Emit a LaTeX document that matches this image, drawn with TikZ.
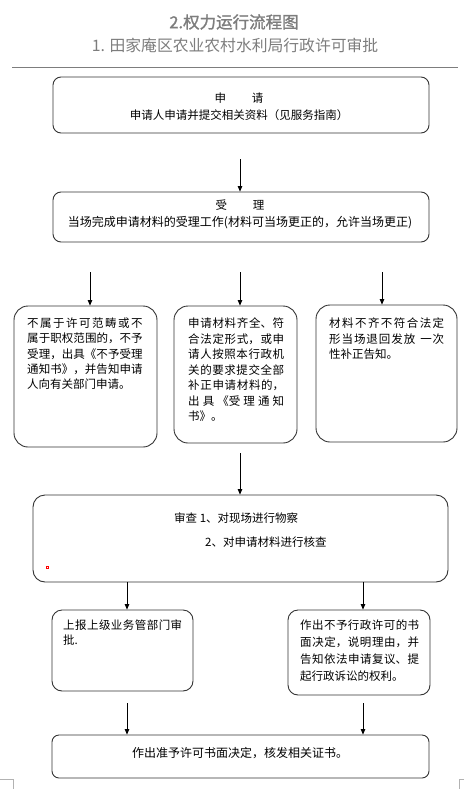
\documentclass[tikz,border=0pt]{standalone}
\usepackage{fontspec}
\setmainfont{Noto Sans CJK SC}
\newfontfamily\titlefont[FakeBold=1.5]{Noto Sans CJK SC}
\usetikzlibrary{arrows.meta}
\XeTeXlinebreaklocale "zh"
\XeTeXlinebreakskip=0pt plus 4pt
\setlength\parindent{0pt}
\definecolor{titlegray}{RGB}{125,125,125}
\begin{document}
\begin{tikzpicture}[x=1pt,y=-1pt,
  box/.style={draw=black!80, line width=0.9pt, rectangle, inner sep=0pt},
  arr/.style={draw=black, line width=0.7pt, -{Triangle[length=5.5pt,width=4.5pt]}},
  txt/.style={inner sep=0pt, font=\fontsize{11.5}{15.5}\selectfont, text=black},
  para/.style={txt, anchor=north west, align=justify},
]
\useasboundingbox (0,0) rectangle (464,789);
% titles
\node[inner sep=0pt, font=\titlefont\fontsize{16.5}{20}\selectfont, text=titlegray] (title) at (234,22) {2.权力运行流程图};
\node[inner sep=0pt, font=\fontsize{15.8}{20}\selectfont, text=titlegray] (sub) at (235,45) {1. 田家庵区农业农村水利局行政许可审批};
\draw[titlegray, line width=0.8pt] (12,67) -- (458,67);
% boxes
\node[box, rounded corners=8pt, minimum width=376pt, minimum height=56pt] (b1) at (241,105) {};
\node[box, rounded corners=8pt, minimum width=376pt, minimum height=50pt] (b2) at (241,217) {};
\node[box, rounded corners=14pt, minimum width=143pt, minimum height=141pt] (bL) at (85.5,376.5) {};
\node[box, rounded corners=14pt, minimum width=123pt, minimum height=137pt] (bM) at (235.5,374.5) {};
\node[box, rounded corners=14pt, minimum width=141pt, minimum height=137pt] (bR) at (386.5,373.5) {};
\node[box, rounded corners=12pt, minimum width=415pt, minimum height=87pt] (rev) at (240.5,538.5) {};
\node[box, rounded corners=10pt, minimum width=141pt, minimum height=81pt] (bA) at (122.5,650.5) {};
\node[box, rounded corners=10pt, minimum width=142pt, minimum height=85pt] (bB) at (359,652.5) {};
\node[box, rounded corners=7pt, minimum width=377pt, minimum height=43pt] (bF) at (240.5,756.5) {};
% texts
\node[txt, anchor=north, align=center, font=\fontsize{11.5}{17}\selectfont] (t1) at (239,91.4) {\rule{0pt}{11pt}申\hspace{26pt}请\\申请人申请并提交相关资料（见服务指南）};
\node[txt, anchor=north, align=center, font=\fontsize{11.5}{17}\selectfont] (t2) at (240,198.4) {\rule{0pt}{11pt}受\hspace{26pt}理\\{\fontsize{12}{17}\selectfont 当场完成申请材料的受理工作(材料可当场更正的，允许当场更正)}};
\node[para, text width=115.5pt, font=\fontsize{11.5}{15.3}\selectfont] (tL) at (27,316.4) {\rule{0pt}{11pt}不属于许可范畴或不\linebreak 属于职权范围的，不予\linebreak 受理，出具《不予受理\linebreak 通知书》，并告知申请\linebreak 人向有关部门申请。};
\node[para, text width=96pt, font=\fontsize{11.5}{15.5}\selectfont] (tM) at (188,316.4) {\rule{0pt}{11pt}申请材料齐全、符\linebreak 合法定形式，或申\linebreak 请人按照本行政机\linebreak 关的要求提交全部\linebreak 补正申请材料的，\linebreak 出具《受理通知\linebreak 书》。};
\node[para, text width=115pt, font=\fontsize{11.5}{15.5}\selectfont] (tR) at (329,316.4) {\rule{0pt}{11pt}材料不齐不符合法定\linebreak 形当场退回发放\hspace{5pt}一次\linebreak 性补正告知。};
\node[txt, anchor=north west, align=left, font=\fontsize{11.5}{24}\selectfont] (tRev) at (174,511.4) {\rule{0pt}{11pt}审查 1、对现场进行物察\\\hspace*{31pt}2、对申请材料进行核查};
\node[para, text width=119pt, font=\fontsize{11.5}{15}\selectfont] (tA) at (63,618.4) {\rule{0pt}{11pt}上报上级业务管部门审\linebreak 批.};
\node[para, text width=119pt, font=\fontsize{11.5}{17}\selectfont] (tB) at (300,618.4) {\rule{0pt}{11pt}作出不予行政许可的书\linebreak 面决定，说明理由，并\linebreak 告知依法申请复议、提\linebreak 起行政诉讼的权利。};
\node[txt, font=\fontsize{12}{15}\selectfont] (tF) at (240,753) {作出准予许可书面决定，核发相关证书。};
% connectors
\coordinate (s1) at (240,159);
\draw[arr] (s1) -- (s1 |- b2.north);
\coordinate (sL) at (90,272);
\coordinate (sM) at (240,272);
\coordinate (sR) at (382,272);
\draw[arr] (sL) -- (sL |- bL.north);
\draw[arr] (sM) -- (sM |- bM.north);
\draw[arr] (sR) -- (sR |- bR.north);
\coordinate (s5) at (240,453);
\draw[arr] (s5) -- (s5 |- rev.north);
\coordinate (xA) at (127,0);
\coordinate (xB) at (363,0);
\draw[arr] (rev.south -| xA) -- (bA.north -| xA);
\draw[arr] (rev.south -| xB) -- (bB.north -| xB);
\coordinate (sA2) at (127,703);
\coordinate (sB2) at (363,703);
\draw[arr] (sA2) -- (sA2 |- bF.north);
\draw[arr] (sB2) -- (sB2 |- bF.north);
% small marks
\draw[red, line width=0.6pt] (45.8,565.8) rectangle (48.6,568.6);
\draw[black!30, line width=0.6pt] (0,779) -- (13,779) -- (13,789);
\draw[black!30, line width=0.6pt] (464,779) -- (459,779) -- (459,789);
\end{tikzpicture}
\end{document}
